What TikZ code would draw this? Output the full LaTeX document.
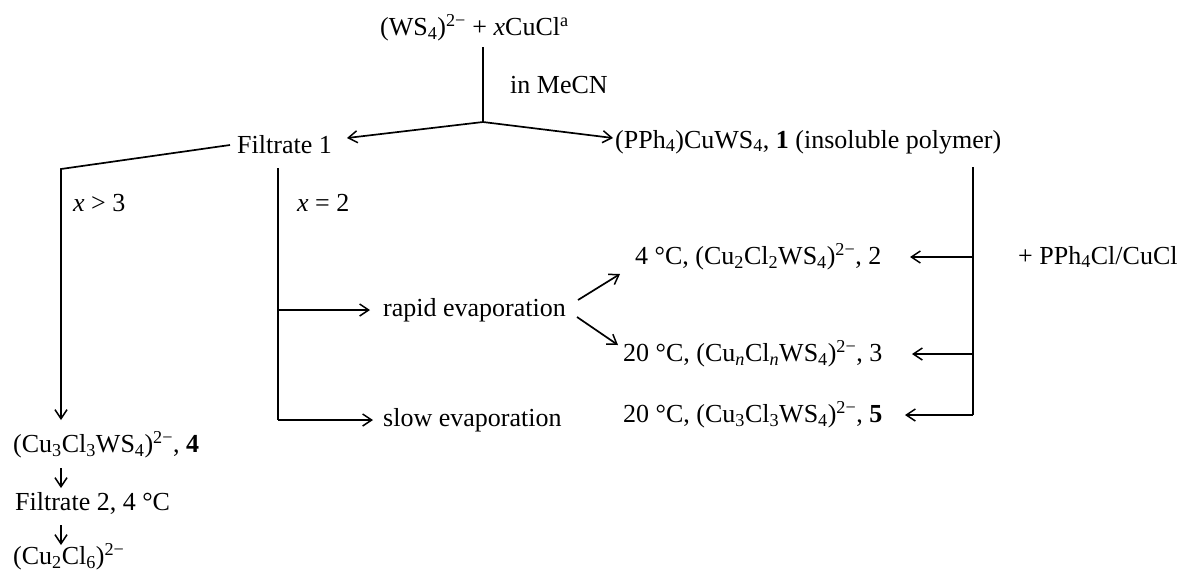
\documentclass[tikz,border=0pt]{standalone}
\usepackage{fontspec}
\setmainfont{Liberation Serif}
\usetikzlibrary{arrows.meta}
\newcommand\chsb[1]{\textsubscript{#1}}
\newcommand\chsp[1]{\textsuperscript{#1}}
\begin{document}
\begin{tikzpicture}[x=1pt,y=-1pt,
  lbl/.style={anchor=west,inner sep=0pt,font=\fontsize{26}{30}\selectfont},
  ln/.style={line width=1.7pt,line join=miter},
  arr/.style={ln,-{Straight Barb[length=9pt,width=12pt,line width=1.5pt]}}]
\useasboundingbox (0,0) rectangle (1177,574);

% starting materials and solvent
\node[lbl] (top) at (380,28) {(WS\chsb{4})\chsp{2−} + \textit{x}CuCl\chsp{a}};
\node[lbl] (mecn) at (510,85) {in MeCN};
\coordinate (topfoot) at (483,47);
\coordinate (J) at (483,122);

% first separation
\node[lbl] (f1) at (237,145) {Filtrate 1};
\node[lbl] (poly) at (615,142) {(PPh\chsb{4})CuWS\chsb{4}, \textbf{1} (insoluble polymer)};

% left branch
\node[lbl] (xg3) at (73,203) {\textit{x} {>} 3};
\node[lbl] (c4) at (13,445) {(Cu\chsb{3}Cl\chsb{3}WS\chsb{4})\chsp{2−}, \textbf{4}};
\node[lbl] (f2) at (15,503) {Filtrate 2, 4 °C};
\node[lbl] (c6) at (13,557) {(Cu\chsb{2}Cl\chsb{6})\chsp{2−}};

% middle branch
\node[lbl] (xe2) at (297,203) {\textit{x} = 2};
\node[lbl] (rapid) at (383,310) {rapid evaporation};
\node[lbl] (slow) at (383,420) {slow evaporation};

% products
\node[lbl] (p2) at (635,257) {4 °C, (Cu\chsb{2}Cl\chsb{2}WS\chsb{4})\chsp{2−}, 2};
\node[lbl] (p3) at (623,354) {20 °C, (Cu\chsb{\textit{n}}Cl\chsb{\textit{n}}WS\chsb{4})\chsp{2−}, 3};
\node[lbl] (p5) at (623,415) {20 °C, (Cu\chsb{3}Cl\chsb{3}WS\chsb{4})\chsp{2−}, \textbf{5}};

% reagent for the polymer route
\node[lbl] (reag) at (1018,257) {+ PPh\chsb{4}Cl/CuCl};

% connector junctions
\coordinate (lcorner) at (61,169);
\coordinate (mtop) at (278,168);
\coordinate (mr) at (278,310);
\coordinate (ms) at (278,420);
\coordinate (rtop) at (973,167);
\coordinate (r2) at (973,257);
\coordinate (r3) at (973,354);
\coordinate (r5) at (973,415);

% connectors
\draw[ln] (topfoot) -- (J);
\draw[arr] (J) -- (347,138) coordinate (f1in);
\draw[arr] (J) -- (613,138) coordinate (polyin);
\draw[arr] ([xshift=-7pt]f1.west) -- (lcorner) -- (61,420) coordinate (c4in);
\draw[arr] (61,468) -- (61,488);
\draw[arr] (61,525) -- (61,545);
\draw[ln] (mtop) -- (ms);
\draw[arr] (mr) -- (370,310);
\draw[arr] (ms) -- (373,420);
\draw[arr] (578,300) -- (620,274);
\draw[arr] (577,317) -- (618,345);
\draw[ln] (rtop) -- (r5);
\draw[arr] (r2) -- (910,257);
\draw[arr] (r3) -- (912,354);
\draw[arr] (r5) -- (905,415);
\end{tikzpicture}
\end{document}
